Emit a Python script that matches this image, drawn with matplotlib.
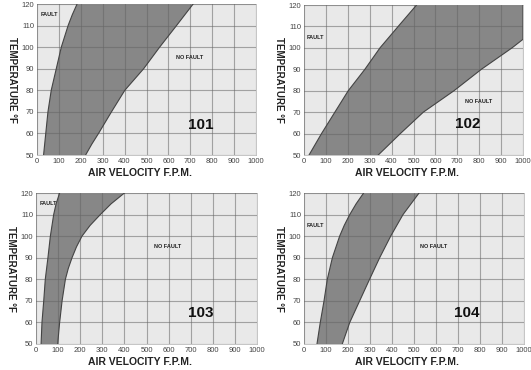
import matplotlib as mpl
import matplotlib.pyplot as plt
import numpy as np

mpl.rcParams['font.family'] = ['Liberation Sans', 'DejaVu Sans']

# boundary curves (air velocity fpm, temperature F) for each fan chart
names = ['101', '102', '103', '104']

left_t = {
    '101': [50, 60, 70, 80, 90, 100, 110, 115, 120],
    '102': [50, 60, 70, 80, 90, 100, 110, 120],
    '103': [50, 60, 70, 80, 90, 100, 110, 115, 120],
    '104': [50, 60, 70, 80, 90, 100, 105, 110, 115, 120],
}
left_v = {
    '101': [30, 40, 50, 65, 88, 111, 142, 161, 183],
    '102': [23, 80, 141, 202, 278, 347, 430, 514],
    '103': [23, 27, 35, 42, 54, 65, 80, 91, 107],
    '104': [59, 74, 91, 106, 129, 162, 183, 208, 237, 271],
}
right_t = {
    '101': [50, 55, 60, 70, 80, 90, 100, 110, 120],
    '102': [50, 60, 70, 80, 90, 100, 104, 120],
    '103': [50, 60, 70, 80, 85, 90, 95, 100, 105, 110, 115, 120],
    '104': [50, 60, 70, 80, 90, 100, 110, 120],
}
right_v = {
    '101': [222, 250, 281, 340, 401, 487, 560, 637, 713],
    '102': [339, 440, 545, 685, 810, 950, 1000, 1000],
    '103': [98, 107, 118, 133, 146, 163, 183, 208, 245, 291, 340, 400],
    '104': [174, 208, 253, 298, 344, 394, 450, 523],
}

# label anchors (velocity, temperature)
fault_pos = {'101': (15, 115), '102': (12, 105), '103': (15, 115), '104': (12, 105)}
nofault_pos = {'101': (698, 95), '102': (798, 75), '103': (597, 95), '104': (589, 95)}
num_pos = {'101': (748, 64), '102': (749, 64.5), '103': (747, 64.5), '104': (738, 64.5)}

boxes = {
    '101': [37 / 531, 215 / 370, 219 / 531, 151 / 370],
    '102': [304 / 531, 215 / 370, 219 / 531, 150 / 370],
    '103': [36 / 531, 26 / 370, 221 / 531, 151 / 370],
    '104': [304 / 531, 26 / 370, 220 / 531, 151 / 370],
}

fig = plt.figure(figsize=(5.31, 3.70), dpi=100)

for n in names:
    ax = fig.add_axes(boxes[n])
    ax.set_facecolor('#e9e9e9')
    lx = np.array(left_v[n]); ly = np.array(left_t[n])
    rx = np.array(right_v[n]); ry = np.array(right_t[n])
    px = np.concatenate([lx, rx[::-1]])
    py = np.concatenate([ly, ry[::-1]])
    ax.fill(px, py, color='#878787', zorder=1, lw=0)
    ax.plot(lx, ly, color='#444444', lw=0.8, zorder=3)
    ax.plot(rx, ry, color='#444444', lw=0.8, zorder=3)

    ax.set_xlim(0, 1000)
    ax.set_ylim(50, 120)
    ax.set_xticks(np.arange(0, 1001, 100))
    ax.set_yticks(np.arange(50, 121, 10))
    ax.grid(color='#666666', lw=0.8, alpha=0.55, zorder=2)
    ax.set_axisbelow(False)
    ax.tick_params(length=0, labelsize=5.5, colors='#444444', pad=2)
    for s in ax.spines.values():
        s.set_color('#bbbbbb')
        s.set_linewidth(0.6)

    ax.set_xlabel('AIR VELOCITY F.P.M.', fontsize=7.5, fontweight='bold', color='#222222')
    ax.xaxis.set_label_coords(0.47, -0.085)
    ax.set_ylabel('TEMPERATURE °F', fontsize=7, fontweight='bold', color='#222222',
                  rotation=270, va='center')
    ax.yaxis.set_label_coords(-0.115, 0.5)

    ax.text(*fault_pos[n], 'FAULT', fontsize=4, fontweight='bold', color='#222222',
            va='center', zorder=4)
    ax.text(*nofault_pos[n], 'NO FAULT', fontsize=4, fontweight='bold', color='#222222',
            ha='center', va='center', zorder=4)
    ax.text(*num_pos[n], n, fontsize=11, fontweight='bold', color='#111111',
            ha='center', va='center', zorder=4)

fig.savefig('out.png', dpi=100)
